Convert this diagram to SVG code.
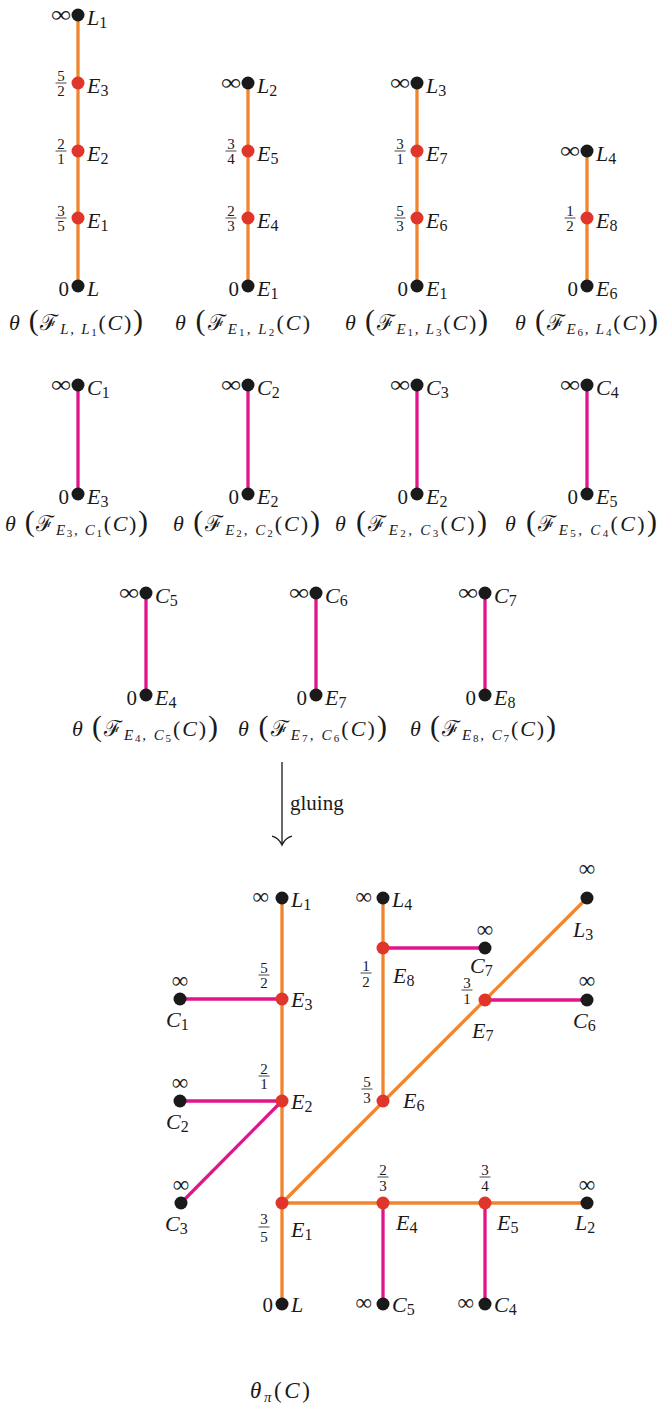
<svg xmlns="http://www.w3.org/2000/svg" width="661" height="1407" viewBox="0 0 661 1407" font-family="Liberation Serif">
<style>
.o{stroke:#F0852D;stroke-width:3.3;fill:none}
.m{stroke:#E0158C;stroke-width:3.3;fill:none}
.bk{fill:#1a1a1a}
.rd{fill:#E0352A}
.lab{font-size:22px;font-style:italic}
.sub{font-size:16px;font-style:normal}
.inf{font-size:23px;text-anchor:end}
.infc{font-size:23px;text-anchor:middle}
.infl{font-size:23px;text-anchor:end}
.zero{font-size:21px;text-anchor:end}
.fr{font-size:15px;text-anchor:middle}
.fb{stroke:#1a1a1a;stroke-width:0.8}
.cap{font-size:22px}
.it{font-style:italic}
.big{font-size:30px}
.cal{font-style:normal}
.s1{font-size:15px;font-style:italic}
.s2{font-size:11px;font-style:normal}
.arr{stroke:#1a1a1a;stroke-width:1.3;fill:none}
</style>
<g id="connectors">
<line class="o" x1="78" y1="15" x2="78" y2="286"/>
<line class="o" x1="248" y1="83" x2="248" y2="286"/>
<line class="o" x1="417" y1="83" x2="417" y2="286"/>
<line class="o" x1="587" y1="151" x2="587" y2="286"/>
<line class="m" x1="78" y1="385" x2="78" y2="494"/>
<line class="m" x1="248" y1="385" x2="248" y2="494"/>
<line class="m" x1="417" y1="385" x2="417" y2="494"/>
<line class="m" x1="587" y1="385" x2="587" y2="494"/>
<line class="m" x1="146" y1="593" x2="146" y2="695"/>
<line class="m" x1="316" y1="593" x2="316" y2="695"/>
<line class="m" x1="485" y1="593" x2="485" y2="695"/>
<line class="arr" x1="282" y1="762" x2="282" y2="844"/>
<path class="arr" d="M272,836 Q279,838 282,845 Q285,838 292,836"/>
<line class="o" x1="282" y1="898" x2="282" y2="1304"/>
<line class="o" x1="383" y1="898" x2="383" y2="1101"/>
<line class="o" x1="282" y1="1203" x2="587" y2="898"/>
<line class="o" x1="282" y1="1203" x2="587" y2="1203"/>
<line class="m" x1="180" y1="999" x2="282" y2="999"/>
<line class="m" x1="180" y1="1101" x2="282" y2="1101"/>
<line class="m" x1="181" y1="1203" x2="282" y2="1101"/>
<line class="m" x1="383" y1="948" x2="485" y2="948"/>
<line class="m" x1="485" y1="1000" x2="587" y2="1000"/>
<line class="m" x1="383" y1="1203" x2="383" y2="1304"/>
<line class="m" x1="485" y1="1203" x2="485" y2="1304"/>
</g>
<g fill="#1a1a1a">
<text x="290" y="810" font-size="21">gluing</text>

<g id="a-L1"><circle class="bk" cx="78" cy="15" r="6.5"/><text class="inf" x="71" y="22" textLength="20" lengthAdjust="spacingAndGlyphs">∞</text><text class="lab" x="87" y="25">L<tspan class="sub" dy="3">1</tspan></text></g>
<g id="a-E3"><circle class="rd" cx="78" cy="83" r="6.5"/><text class="fr" x="61" y="81">5</text><line class="fb" x1="55.5" y1="83" x2="66.5" y2="83"/><text class="fr" x="61" y="96">2</text><text class="lab" x="87" y="93">E<tspan class="sub" dy="3">3</tspan></text></g>
<g id="a-E2"><circle class="rd" cx="78" cy="151" r="6.5"/><text class="fr" x="61" y="149">2</text><line class="fb" x1="55.5" y1="151" x2="66.5" y2="151"/><text class="fr" x="61" y="164">1</text><text class="lab" x="87" y="161">E<tspan class="sub" dy="3">2</tspan></text></g>
<g id="a-E1"><circle class="rd" cx="78" cy="218" r="6.5"/><text class="fr" x="61" y="216">3</text><line class="fb" x1="55.5" y1="218" x2="66.5" y2="218"/><text class="fr" x="61" y="231">5</text><text class="lab" x="87" y="228">E<tspan class="sub" dy="3">1</tspan></text></g>
<g id="a-L"><circle class="bk" cx="78" cy="286" r="6.5"/><text class="zero" x="69" y="296">0</text><text class="lab" x="87" y="296">L</text></g>
<text id="cap-a" class="cap" x="9" y="330" textLength="134" lengthAdjust="spacing"><tspan class="it">θ</tspan> <tspan class="big">(</tspan><tspan class="cal">ℱ</tspan><tspan class="s1" dy="4">L, L</tspan><tspan class="s2" dy="2">1</tspan><tspan dy="-6">(</tspan><tspan class="it">C</tspan>)<tspan class="big">)</tspan></text>

<g id="b-L2"><circle class="bk" cx="248" cy="83" r="6.5"/><text class="inf" x="241" y="90" textLength="20" lengthAdjust="spacingAndGlyphs">∞</text><text class="lab" x="257" y="93">L<tspan class="sub" dy="3">2</tspan></text></g>
<g id="b-E5"><circle class="rd" cx="248" cy="151" r="6.5"/><text class="fr" x="231" y="149">3</text><line class="fb" x1="225.5" y1="151" x2="236.5" y2="151"/><text class="fr" x="231" y="164">4</text><text class="lab" x="257" y="161">E<tspan class="sub" dy="3">5</tspan></text></g>
<g id="b-E4"><circle class="rd" cx="248" cy="218" r="6.5"/><text class="fr" x="231" y="216">2</text><line class="fb" x1="225.5" y1="218" x2="236.5" y2="218"/><text class="fr" x="231" y="231">3</text><text class="lab" x="257" y="228">E<tspan class="sub" dy="3">4</tspan></text></g>
<g id="b-E1"><circle class="bk" cx="248" cy="286" r="6.5"/><text class="zero" x="239" y="296">0</text><text class="lab" x="257" y="296">E<tspan class="sub" dy="3">1</tspan></text></g>
<text id="cap-b" class="cap" x="175" y="330" textLength="135" lengthAdjust="spacing"><tspan class="it">θ</tspan> <tspan class="big">(</tspan><tspan class="cal">ℱ</tspan><tspan class="s1" dy="4">E</tspan><tspan class="s2" dy="2">1</tspan><tspan class="s1" dy="-2">, L</tspan><tspan class="s2" dy="2">2</tspan><tspan dy="-6">(</tspan><tspan class="it">C</tspan>)</text>

<g id="c-L3"><circle class="bk" cx="417" cy="83" r="6.5"/><text class="inf" x="410" y="90" textLength="20" lengthAdjust="spacingAndGlyphs">∞</text><text class="lab" x="426" y="93">L<tspan class="sub" dy="3">3</tspan></text></g>
<g id="c-E7"><circle class="rd" cx="417" cy="151" r="6.5"/><text class="fr" x="400" y="149">3</text><line class="fb" x1="394.5" y1="151" x2="405.5" y2="151"/><text class="fr" x="400" y="164">1</text><text class="lab" x="426" y="161">E<tspan class="sub" dy="3">7</tspan></text></g>
<g id="c-E6"><circle class="rd" cx="417" cy="218" r="6.5"/><text class="fr" x="400" y="216">5</text><line class="fb" x1="394.5" y1="218" x2="405.5" y2="218"/><text class="fr" x="400" y="231">3</text><text class="lab" x="426" y="228">E<tspan class="sub" dy="3">6</tspan></text></g>
<g id="c-E1"><circle class="bk" cx="417" cy="286" r="6.5"/><text class="zero" x="408" y="296">0</text><text class="lab" x="426" y="296">E<tspan class="sub" dy="3">1</tspan></text></g>
<text id="cap-c" class="cap" x="345" y="330" textLength="143" lengthAdjust="spacing"><tspan class="it">θ</tspan> <tspan class="big">(</tspan><tspan class="cal">ℱ</tspan><tspan class="s1" dy="4">E</tspan><tspan class="s2" dy="2">1</tspan><tspan class="s1" dy="-2">, L</tspan><tspan class="s2" dy="2">3</tspan><tspan dy="-6">(</tspan><tspan class="it">C</tspan>)<tspan class="big">)</tspan></text>

<g id="d-L4"><circle class="bk" cx="587" cy="151" r="6.5"/><text class="inf" x="580" y="158" textLength="20" lengthAdjust="spacingAndGlyphs">∞</text><text class="lab" x="596" y="161">L<tspan class="sub" dy="3">4</tspan></text></g>
<g id="d-E8"><circle class="rd" cx="587" cy="218" r="6.5"/><text class="fr" x="570" y="216">1</text><line class="fb" x1="564.5" y1="218" x2="575.5" y2="218"/><text class="fr" x="570" y="231">2</text><text class="lab" x="596" y="228">E<tspan class="sub" dy="3">8</tspan></text></g>
<g id="d-E6"><circle class="bk" cx="587" cy="286" r="6.5"/><text class="zero" x="578" y="296">0</text><text class="lab" x="596" y="296">E<tspan class="sub" dy="3">6</tspan></text></g>
<text id="cap-d" class="cap" x="515" y="330" textLength="143" lengthAdjust="spacing"><tspan class="it">θ</tspan> <tspan class="big">(</tspan><tspan class="cal">ℱ</tspan><tspan class="s1" dy="4">E</tspan><tspan class="s2" dy="2">6</tspan><tspan class="s1" dy="-2">, L</tspan><tspan class="s2" dy="2">4</tspan><tspan dy="-6">(</tspan><tspan class="it">C</tspan>)<tspan class="big">)</tspan></text>

<g id="e-C1"><circle class="bk" cx="78" cy="385" r="6.5"/><text class="inf" x="71" y="392" textLength="20" lengthAdjust="spacingAndGlyphs">∞</text><text class="lab" x="87" y="395">C<tspan class="sub" dy="3">1</tspan></text></g>
<g id="e-E3"><circle class="bk" cx="78" cy="494" r="6.5"/><text class="zero" x="69" y="504">0</text><text class="lab" x="87" y="504">E<tspan class="sub" dy="3">3</tspan></text></g>
<text id="cap-e" class="cap" x="5" y="531" textLength="143" lengthAdjust="spacing"><tspan class="it">θ</tspan> <tspan class="big">(</tspan><tspan class="cal">ℱ</tspan><tspan class="s1" dy="4">E</tspan><tspan class="s2" dy="2">3</tspan><tspan class="s1" dy="-2">, C</tspan><tspan class="s2" dy="2">1</tspan><tspan dy="-6">(</tspan><tspan class="it">C</tspan>)<tspan class="big">)</tspan></text>

<g id="f-C2"><circle class="bk" cx="248" cy="385" r="6.5"/><text class="inf" x="241" y="392" textLength="20" lengthAdjust="spacingAndGlyphs">∞</text><text class="lab" x="257" y="395">C<tspan class="sub" dy="3">2</tspan></text></g>
<g id="f-E2"><circle class="bk" cx="248" cy="494" r="6.5"/><text class="zero" x="239" y="504">0</text><text class="lab" x="257" y="504">E<tspan class="sub" dy="3">2</tspan></text></g>
<text id="cap-f" class="cap" x="173" y="531" textLength="147" lengthAdjust="spacing"><tspan class="it">θ</tspan> <tspan class="big">(</tspan><tspan class="cal">ℱ</tspan><tspan class="s1" dy="4">E</tspan><tspan class="s2" dy="2">2</tspan><tspan class="s1" dy="-2">, C</tspan><tspan class="s2" dy="2">2</tspan><tspan dy="-6">(</tspan><tspan class="it">C</tspan>)<tspan class="big">)</tspan></text>

<g id="g-C3"><circle class="bk" cx="417" cy="385" r="6.5"/><text class="inf" x="410" y="392" textLength="20" lengthAdjust="spacingAndGlyphs">∞</text><text class="lab" x="426" y="395">C<tspan class="sub" dy="3">3</tspan></text></g>
<g id="g-E2"><circle class="bk" cx="417" cy="494" r="6.5"/><text class="zero" x="408" y="504">0</text><text class="lab" x="426" y="504">E<tspan class="sub" dy="3">2</tspan></text></g>
<text id="cap-g" class="cap" x="335" y="531" textLength="152" lengthAdjust="spacing"><tspan class="it">θ</tspan> <tspan class="big">(</tspan><tspan class="cal">ℱ</tspan><tspan class="s1" dy="4">E</tspan><tspan class="s2" dy="2">2</tspan><tspan class="s1" dy="-2">, C</tspan><tspan class="s2" dy="2">3</tspan><tspan dy="-6">(</tspan><tspan class="it">C</tspan>)<tspan class="big">)</tspan></text>

<g id="h-C4"><circle class="bk" cx="587" cy="385" r="6.5"/><text class="inf" x="580" y="392" textLength="20" lengthAdjust="spacingAndGlyphs">∞</text><text class="lab" x="596" y="395">C<tspan class="sub" dy="3">4</tspan></text></g>
<g id="h-E5"><circle class="bk" cx="587" cy="494" r="6.5"/><text class="zero" x="578" y="504">0</text><text class="lab" x="596" y="504">E<tspan class="sub" dy="3">5</tspan></text></g>
<text id="cap-h" class="cap" x="505" y="531" textLength="152" lengthAdjust="spacing"><tspan class="it">θ</tspan> <tspan class="big">(</tspan><tspan class="cal">ℱ</tspan><tspan class="s1" dy="4">E</tspan><tspan class="s2" dy="2">5</tspan><tspan class="s1" dy="-2">, C</tspan><tspan class="s2" dy="2">4</tspan><tspan dy="-6">(</tspan><tspan class="it">C</tspan>)<tspan class="big">)</tspan></text>

<g id="i-C5"><circle class="bk" cx="146" cy="593" r="6.5"/><text class="inf" x="139" y="600" textLength="20" lengthAdjust="spacingAndGlyphs">∞</text><text class="lab" x="155" y="603">C<tspan class="sub" dy="3">5</tspan></text></g>
<g id="i-E4"><circle class="bk" cx="146" cy="695" r="6.5"/><text class="zero" x="137" y="705">0</text><text class="lab" x="155" y="705">E<tspan class="sub" dy="3">4</tspan></text></g>
<text id="cap-i" class="cap" x="72" y="736" textLength="146" lengthAdjust="spacing"><tspan class="it">θ</tspan> <tspan class="big">(</tspan><tspan class="cal">ℱ</tspan><tspan class="s1" dy="4">E</tspan><tspan class="s2" dy="2">4</tspan><tspan class="s1" dy="-2">, C</tspan><tspan class="s2" dy="2">5</tspan><tspan dy="-6">(</tspan><tspan class="it">C</tspan>)<tspan class="big">)</tspan></text>

<g id="j-C6"><circle class="bk" cx="316" cy="593" r="6.5"/><text class="inf" x="309" y="600" textLength="20" lengthAdjust="spacingAndGlyphs">∞</text><text class="lab" x="325" y="603">C<tspan class="sub" dy="3">6</tspan></text></g>
<g id="j-E7"><circle class="bk" cx="316" cy="695" r="6.5"/><text class="zero" x="307" y="705">0</text><text class="lab" x="325" y="705">E<tspan class="sub" dy="3">7</tspan></text></g>
<text id="cap-j" class="cap" x="238" y="736" textLength="149" lengthAdjust="spacing"><tspan class="it">θ</tspan> <tspan class="big">(</tspan><tspan class="cal">ℱ</tspan><tspan class="s1" dy="4">E</tspan><tspan class="s2" dy="2">7</tspan><tspan class="s1" dy="-2">, C</tspan><tspan class="s2" dy="2">6</tspan><tspan dy="-6">(</tspan><tspan class="it">C</tspan>)<tspan class="big">)</tspan></text>

<g id="k-C7"><circle class="bk" cx="485" cy="593" r="6.5"/><text class="inf" x="478" y="600" textLength="20" lengthAdjust="spacingAndGlyphs">∞</text><text class="lab" x="494" y="603">C<tspan class="sub" dy="3">7</tspan></text></g>
<g id="k-E8"><circle class="bk" cx="485" cy="695" r="6.5"/><text class="zero" x="476" y="705">0</text><text class="lab" x="494" y="705">E<tspan class="sub" dy="3">8</tspan></text></g>
<text id="cap-k" class="cap" x="410" y="736" textLength="146" lengthAdjust="spacing"><tspan class="it">θ</tspan> <tspan class="big">(</tspan><tspan class="cal">ℱ</tspan><tspan class="s1" dy="4">E</tspan><tspan class="s2" dy="2">8</tspan><tspan class="s1" dy="-2">, C</tspan><tspan class="s2" dy="2">7</tspan><tspan dy="-6">(</tspan><tspan class="it">C</tspan>)<tspan class="big">)</tspan></text>

<g id="z-L1"><circle class="bk" cx="282" cy="898" r="6.5"/><text class="infl" x="269" y="904">∞</text><text class="lab" x="291" y="907">L<tspan class="sub" dy="3">1</tspan></text></g>
<g id="z-E3"><circle class="rd" cx="282" cy="999" r="6.5"/><text class="fr" x="264" y="973">5</text><line class="fb" x1="258.5" y1="975" x2="269.5" y2="975"/><text class="fr" x="264" y="988">2</text><text class="lab" x="291" y="1007">E<tspan class="sub" dy="3">3</tspan></text></g>
<g id="z-E2"><circle class="rd" cx="282" cy="1101" r="6.5"/><text class="fr" x="264" y="1074">2</text><line class="fb" x1="258.5" y1="1076" x2="269.5" y2="1076"/><text class="fr" x="264" y="1089">1</text><text class="lab" x="291" y="1109">E<tspan class="sub" dy="3">2</tspan></text></g>
<g id="z-E1"><circle class="rd" cx="282" cy="1203" r="6.5"/><text class="fr" x="264" y="1224">3</text><line class="fb" x1="258.5" y1="1227" x2="269.5" y2="1227"/><text class="fr" x="264" y="1242">5</text><text class="lab" x="291" y="1237">E<tspan class="sub" dy="3">1</tspan></text></g>
<g id="z-L"><circle class="bk" cx="282" cy="1304" r="6.5"/><text class="zero" x="273" y="1312">0</text><text class="lab" x="291" y="1312">L</text></g>
<g id="z-C1"><circle class="bk" cx="180" cy="999" r="6.5"/><text class="infc" x="180" y="988">∞</text><text class="lab" x="166" y="1027">C<tspan class="sub" dy="3">1</tspan></text></g>
<g id="z-C2"><circle class="bk" cx="180" cy="1101" r="6.5"/><text class="infc" x="180" y="1090">∞</text><text class="lab" x="166" y="1129">C<tspan class="sub" dy="3">2</tspan></text></g>
<g id="z-C3"><circle class="bk" cx="181" cy="1203" r="6.5"/><text class="infc" x="181" y="1192">∞</text><text class="lab" x="165" y="1231">C<tspan class="sub" dy="3">3</tspan></text></g>
<g id="z-L4"><circle class="bk" cx="383" cy="898" r="6.5"/><text class="infl" x="372" y="904">∞</text><text class="lab" x="392" y="907">L<tspan class="sub" dy="3">4</tspan></text></g>
<g id="z-E8"><circle class="rd" cx="383" cy="948" r="6.5"/><text class="fr" x="366" y="971">1</text><line class="fb" x1="360.5" y1="973" x2="371.5" y2="973"/><text class="fr" x="366" y="987">2</text><text class="lab" x="393" y="983">E<tspan class="sub" dy="3">8</tspan></text></g>
<g id="z-C7"><circle class="bk" cx="485" cy="948" r="6.5"/><text class="infc" x="485" y="937">∞</text><text class="lab" x="470" y="973">C<tspan class="sub" dy="3">7</tspan></text></g>
<g id="z-L3"><circle class="bk" cx="587" cy="898" r="6.5"/><text class="infc" x="587" y="876">∞</text><text class="lab" x="573" y="937">L<tspan class="sub" dy="3">3</tspan></text></g>
<g id="z-E7"><circle class="rd" cx="485" cy="1000" r="6.5"/><text class="fr" x="467" y="988">3</text><line class="fb" x1="461.5" y1="990" x2="472.5" y2="990"/><text class="fr" x="467" y="1004">1</text><text class="lab" x="472" y="1038">E<tspan class="sub" dy="3">7</tspan></text></g>
<g id="z-C6"><circle class="bk" cx="587" cy="1000" r="6.5"/><text class="infc" x="587" y="988">∞</text><text class="lab" x="573" y="1028">C<tspan class="sub" dy="3">6</tspan></text></g>
<g id="z-E6"><circle class="rd" cx="383" cy="1101" r="6.5"/><text class="fr" x="367" y="1087">5</text><line class="fb" x1="361.5" y1="1089" x2="372.5" y2="1089"/><text class="fr" x="367" y="1103">3</text><text class="lab" x="403" y="1108">E<tspan class="sub" dy="3">6</tspan></text></g>
<g id="z-E4"><circle class="rd" cx="383" cy="1203" r="6.5"/><text class="fr" x="383" y="1175">2</text><line class="fb" x1="377.5" y1="1177" x2="388.5" y2="1177"/><text class="fr" x="383" y="1191">3</text><text class="lab" x="396" y="1230">E<tspan class="sub" dy="3">4</tspan></text></g>
<g id="z-E5"><circle class="rd" cx="485" cy="1203" r="6.5"/><text class="fr" x="485" y="1175">3</text><line class="fb" x1="479.5" y1="1177" x2="490.5" y2="1177"/><text class="fr" x="485" y="1191">4</text><text class="lab" x="497" y="1230">E<tspan class="sub" dy="3">5</tspan></text></g>
<g id="z-L2"><circle class="bk" cx="587" cy="1203" r="6.5"/><text class="infc" x="587" y="1192">∞</text><text class="lab" x="575" y="1230">L<tspan class="sub" dy="3">2</tspan></text></g>
<g id="z-C5"><circle class="bk" cx="383" cy="1304" r="6.5"/><text class="infl" x="372" y="1310">∞</text><text class="lab" x="392" y="1312">C<tspan class="sub" dy="3">5</tspan></text></g>
<g id="z-C4"><circle class="bk" cx="485" cy="1304" r="6.5"/><text class="infl" x="474" y="1310">∞</text><text class="lab" x="494" y="1312">C<tspan class="sub" dy="3">4</tspan></text></g>
<text id="cap-z" x="250" y="1398" font-size="23" textLength="60" lengthAdjust="spacing"><tspan class="it">θ</tspan><tspan class="s1" dy="4">π</tspan><tspan dy="-4">(</tspan><tspan class="it">C</tspan>)</text>
</g>
</svg>
